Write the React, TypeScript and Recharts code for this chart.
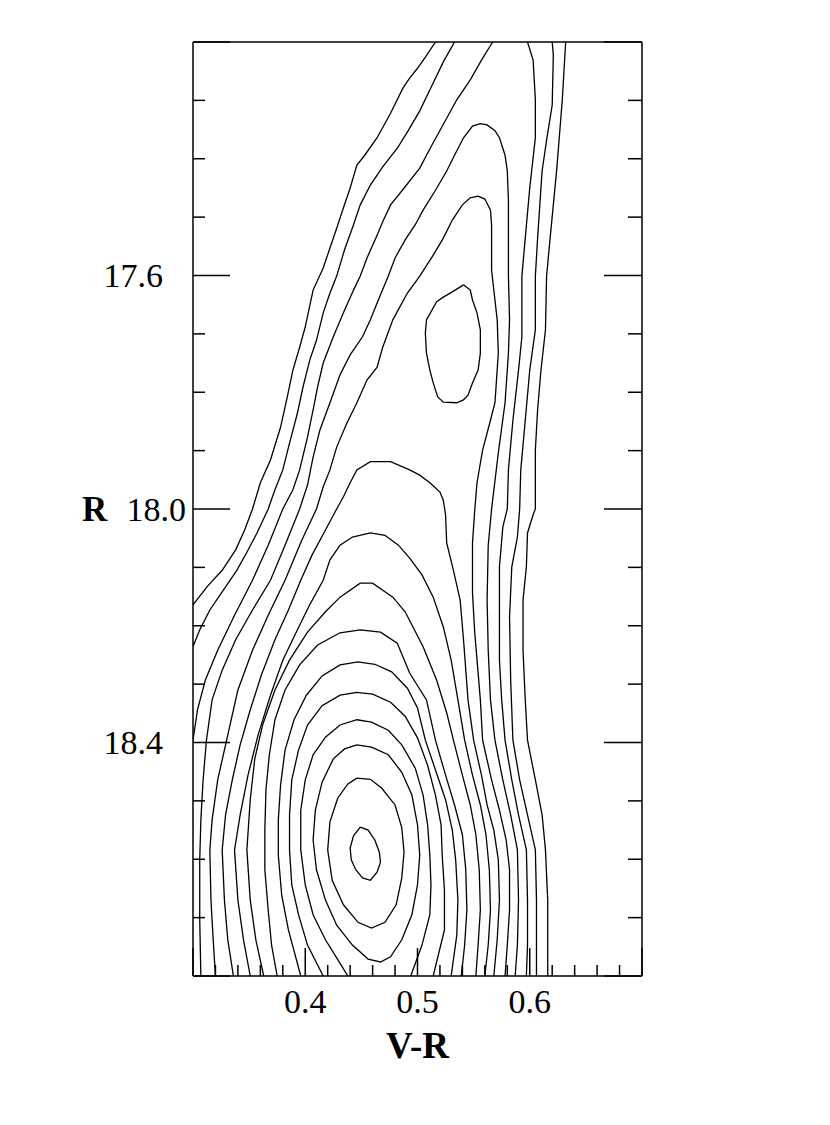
import React from 'react';
import { ScatterChart, Scatter, XAxis, YAxis } from 'recharts';

type Pt = [number, number];

// axis ticks
const vrTicks = [0.3, 0.32, 0.34, 0.36, 0.38, 0.4, 0.42, 0.44, 0.46, 0.48, 0.5, 0.52, 0.54, 0.56, 0.58, 0.6, 0.62, 0.64, 0.66, 0.68, 0.7];
const vrMajor = [0.3, 0.4, 0.5, 0.6, 0.7];
const vrLabels = [0.4, 0.5, 0.6];
const rTicks = [17.2, 17.3, 17.4, 17.5, 17.6, 17.7, 17.8, 17.9, 18.0, 18.1, 18.2, 18.3, 18.4, 18.5, 18.6, 18.7, 18.8];
const rMajor = [17.2, 17.6, 18.0, 18.4, 18.8];
const rLabels = [17.6, 18.0, 18.4];

// contours around the main peak (V-R, R)
const c1: Pt[] = [[0.449,18.545],[0.456,18.550],[0.462,18.567],[0.466,18.588],[0.467,18.605],[0.464,18.622],[0.458,18.636],[0.451,18.632],[0.445,18.618],[0.441,18.601],[0.440,18.581],[0.443,18.560],[0.449,18.545]];
const c2: Pt[] = [[0.446,18.461],[0.458,18.463],[0.468,18.478],[0.480,18.507],[0.486,18.546],[0.488,18.588],[0.486,18.632],[0.481,18.678],[0.471,18.708],[0.459,18.718],[0.447,18.708],[0.434,18.678],[0.424,18.636],[0.420,18.584],[0.422,18.536],[0.429,18.495],[0.438,18.471],[0.446,18.461]];
const c3: Pt[] = [[0.446,18.404],[0.459,18.408],[0.474,18.421],[0.486,18.451],[0.495,18.490],[0.500,18.541],[0.502,18.593],[0.500,18.644],[0.495,18.695],[0.486,18.738],[0.476,18.767],[0.467,18.776],[0.456,18.771],[0.442,18.747],[0.428,18.713],[0.418,18.670],[0.410,18.618],[0.407,18.567],[0.409,18.516],[0.415,18.468],[0.425,18.428],[0.435,18.411],[0.446,18.404]];
const c4: Pt[] = [[0.438,18.800],[0.428,18.769],[0.418,18.738],[0.407,18.695],[0.400,18.644],[0.396,18.584],[0.396,18.516],[0.400,18.464],[0.407,18.421],[0.418,18.391],[0.431,18.370],[0.446,18.361],[0.459,18.365],[0.474,18.379],[0.486,18.404],[0.498,18.444],[0.505,18.490],[0.509,18.541],[0.511,18.593],[0.512,18.644],[0.511,18.695],[0.504,18.747],[0.494,18.800]];
const c5: Pt[] = [[0.416,18.800],[0.402,18.747],[0.394,18.695],[0.388,18.644],[0.386,18.584],[0.386,18.524],[0.388,18.464],[0.394,18.413],[0.402,18.370],[0.415,18.337],[0.431,18.319],[0.446,18.314],[0.460,18.317],[0.476,18.331],[0.489,18.355],[0.500,18.392],[0.509,18.439],[0.516,18.490],[0.521,18.541],[0.522,18.593],[0.524,18.653],[0.524,18.721],[0.514,18.800]];
const c6: Pt[] = [[0.396,18.800],[0.385,18.721],[0.379,18.661],[0.376,18.593],[0.376,18.533],[0.378,18.473],[0.382,18.413],[0.390,18.361],[0.401,18.319],[0.415,18.286],[0.431,18.267],[0.447,18.262],[0.462,18.266],[0.477,18.279],[0.491,18.307],[0.500,18.341],[0.507,18.396],[0.516,18.447],[0.525,18.498],[0.531,18.550],[0.534,18.601],[0.536,18.670],[0.535,18.730],[0.530,18.800]];
const c7: Pt[] = [[0.375,18.800],[0.370,18.747],[0.367,18.687],[0.364,18.618],[0.364,18.550],[0.365,18.481],[0.368,18.421],[0.373,18.361],[0.382,18.310],[0.395,18.267],[0.411,18.233],[0.431,18.212],[0.449,18.207],[0.467,18.211],[0.482,18.230],[0.493,18.281],[0.508,18.327],[0.516,18.396],[0.525,18.456],[0.533,18.507],[0.540,18.558],[0.543,18.618],[0.544,18.687],[0.542,18.747],[0.539,18.800]];
const c8: Pt[] = [[0.363,18.800],[0.356,18.738],[0.351,18.670],[0.348,18.584],[0.351,18.498],[0.355,18.428],[0.362,18.370],[0.373,18.310],[0.386,18.259],[0.402,18.211],[0.418,18.176],[0.431,18.151],[0.449,18.127],[0.460,18.127],[0.478,18.151],[0.489,18.176],[0.505,18.236],[0.517,18.293],[0.526,18.349],[0.532,18.396],[0.540,18.456],[0.547,18.507],[0.552,18.558],[0.555,18.618],[0.556,18.687],[0.554,18.747],[0.552,18.800]];
const c9: Pt[] = [[0.351,18.800],[0.345,18.738],[0.340,18.670],[0.337,18.584],[0.342,18.524],[0.349,18.456],[0.358,18.387],[0.369,18.319],[0.380,18.259],[0.393,18.207],[0.404,18.164],[0.416,18.122],[0.422,18.087],[0.431,18.062],[0.442,18.048],[0.458,18.041],[0.471,18.045],[0.483,18.062],[0.493,18.084],[0.504,18.113],[0.514,18.151],[0.523,18.202],[0.530,18.259],[0.536,18.327],[0.542,18.396],[0.549,18.456],[0.556,18.507],[0.561,18.558],[0.564,18.618],[0.565,18.687],[0.563,18.747],[0.560,18.800]];
const c10: Pt[] = [[0.336,18.800],[0.331,18.738],[0.328,18.670],[0.326,18.584],[0.329,18.524],[0.335,18.464],[0.342,18.404],[0.351,18.344],[0.361,18.284],[0.373,18.224],[0.385,18.173],[0.396,18.122],[0.406,18.079],[0.418,18.036],[0.428,18.000],[0.434,17.979],[0.440,17.955],[0.446,17.933],[0.458,17.919],[0.476,17.919],[0.493,17.933],[0.502,17.942],[0.511,17.955],[0.520,17.971],[0.523,17.985],[0.525,18.010],[0.526,18.058],[0.532,18.105],[0.538,18.156],[0.541,18.224],[0.545,18.327],[0.550,18.396],[0.557,18.456],[0.562,18.507],[0.568,18.550],[0.572,18.601],[0.573,18.670],[0.571,18.738],[0.568,18.800]];

// secondary peak
const s1: Pt[] = [[0.541,17.616],[0.547,17.625],[0.549,17.642],[0.553,17.664],[0.556,17.693],[0.556,17.733],[0.554,17.762],[0.549,17.784],[0.545,17.805],[0.541,17.813],[0.535,17.818],[0.523,17.817],[0.518,17.808],[0.514,17.784],[0.511,17.762],[0.508,17.733],[0.507,17.699],[0.508,17.676],[0.513,17.659],[0.517,17.645],[0.523,17.637],[0.531,17.628],[0.541,17.616]];

// outer contours
const c11: Pt[] = [[0.320,18.800],[0.318,18.738],[0.316,18.670],[0.315,18.584],[0.317,18.533],[0.322,18.464],[0.331,18.387],[0.340,18.310],[0.353,18.242],[0.367,18.182],[0.382,18.122],[0.397,18.053],[0.410,18.000],[0.416,17.962],[0.422,17.933],[0.428,17.894],[0.437,17.853],[0.446,17.818],[0.455,17.779],[0.464,17.757],[0.469,17.723],[0.478,17.676],[0.491,17.630],[0.502,17.601],[0.514,17.565],[0.523,17.536],[0.531,17.505],[0.540,17.479],[0.547,17.467],[0.554,17.464],[0.560,17.469],[0.565,17.488],[0.566,17.513],[0.566,17.539],[0.566,17.591],[0.571,17.676],[0.572,17.733],[0.569,17.818],[0.565,17.848],[0.558,17.899],[0.553,17.955],[0.551,18.002],[0.549,18.058],[0.549,18.144],[0.551,18.212],[0.556,18.327],[0.558,18.396],[0.566,18.464],[0.573,18.516],[0.579,18.567],[0.582,18.618],[0.582,18.687],[0.580,18.747],[0.578,18.800]];
const c12: Pt[] = [[0.307,18.800],[0.306,18.704],[0.306,18.601],[0.307,18.533],[0.309,18.464],[0.312,18.396],[0.317,18.327],[0.326,18.276],[0.338,18.224],[0.353,18.173],[0.369,18.122],[0.382,18.062],[0.395,18.000],[0.402,17.959],[0.407,17.911],[0.413,17.865],[0.422,17.818],[0.431,17.770],[0.440,17.736],[0.451,17.705],[0.458,17.676],[0.464,17.647],[0.474,17.601],[0.480,17.570],[0.489,17.539],[0.498,17.513],[0.505,17.488],[0.516,17.454],[0.526,17.421],[0.533,17.394],[0.541,17.364],[0.549,17.344],[0.556,17.340],[0.562,17.342],[0.569,17.352],[0.573,17.364],[0.578,17.394],[0.580,17.421],[0.581,17.471],[0.581,17.539],[0.581,17.601],[0.582,17.676],[0.581,17.733],[0.578,17.818],[0.572,17.904],[0.566,18.000],[0.563,18.062],[0.562,18.156],[0.563,18.242],[0.565,18.327],[0.569,18.396],[0.576,18.464],[0.583,18.524],[0.589,18.584],[0.590,18.670],[0.589,18.747],[0.587,18.800]];
const c13Left: Pt[] = [[0.300,18.396],[0.304,18.344],[0.311,18.293],[0.322,18.242],[0.337,18.182],[0.353,18.122],[0.367,18.062],[0.380,18.000],[0.389,17.967],[0.395,17.933],[0.402,17.877],[0.407,17.830],[0.411,17.791],[0.416,17.750],[0.425,17.705],[0.434,17.664],[0.443,17.625],[0.449,17.601],[0.455,17.570],[0.464,17.531],[0.469,17.508],[0.476,17.479],[0.489,17.448],[0.502,17.416],[0.513,17.376],[0.525,17.334],[0.535,17.299],[0.547,17.265],[0.557,17.231],[0.567,17.200]];
const c13Right: Pt[] = [[0.598,17.200],[0.603,17.231],[0.605,17.299],[0.605,17.364],[0.600,17.450],[0.596,17.536],[0.593,17.601],[0.593,17.705],[0.590,17.762],[0.585,17.848],[0.581,17.933],[0.580,18.000],[0.576,18.031],[0.573,18.099],[0.573,18.156],[0.573,18.259],[0.575,18.327],[0.578,18.396],[0.584,18.464],[0.590,18.524],[0.597,18.584],[0.598,18.670],[0.598,18.747],[0.597,18.800]];
const c14Left: Pt[] = [[0.300,18.236],[0.306,18.207],[0.315,18.173],[0.326,18.142],[0.339,18.105],[0.348,18.074],[0.357,18.041],[0.367,18.000],[0.373,17.967],[0.380,17.933],[0.386,17.887],[0.393,17.836],[0.398,17.791],[0.404,17.745],[0.410,17.711],[0.416,17.664],[0.422,17.630],[0.428,17.601],[0.435,17.556],[0.443,17.513],[0.449,17.479],[0.458,17.445],[0.469,17.414],[0.482,17.382],[0.492,17.351],[0.502,17.318],[0.513,17.274],[0.523,17.234],[0.533,17.200]];
const c14Right: Pt[] = [[0.620,17.200],[0.621,17.222],[0.620,17.308],[0.615,17.368],[0.611,17.421],[0.607,17.536],[0.605,17.601],[0.605,17.693],[0.600,17.762],[0.596,17.848],[0.592,17.933],[0.591,18.000],[0.589,18.048],[0.584,18.099],[0.582,18.185],[0.583,18.293],[0.585,18.396],[0.591,18.464],[0.598,18.524],[0.605,18.584],[0.606,18.670],[0.606,18.747],[0.606,18.800]];
const c15Left: Pt[] = [[0.300,18.164],[0.313,18.132],[0.326,18.105],[0.338,18.070],[0.346,18.036],[0.353,18.000],[0.360,17.955],[0.369,17.916],[0.378,17.860],[0.384,17.808],[0.389,17.762],[0.395,17.723],[0.400,17.688],[0.407,17.625],[0.416,17.587],[0.422,17.553],[0.428,17.519],[0.434,17.484],[0.440,17.450],[0.446,17.411],[0.453,17.394],[0.464,17.364],[0.476,17.322],[0.487,17.279],[0.493,17.262],[0.500,17.245],[0.507,17.226],[0.516,17.200]];
const c15Right: Pt[] = [[0.632,17.200],[0.629,17.299],[0.624,17.419],[0.618,17.539],[0.615,17.601],[0.614,17.693],[0.610,17.762],[0.607,17.830],[0.605,17.899],[0.605,18.000],[0.603,18.010],[0.598,18.041],[0.597,18.099],[0.594,18.156],[0.594,18.242],[0.596,18.327],[0.598,18.396],[0.605,18.464],[0.611,18.524],[0.614,18.584],[0.616,18.670],[0.616,18.800]];

const contours = [c1, c2, c3, c4, c5, c6, c7, c8, c9, c10, s1, c11, c12, c13Left, c13Right, c14Left, c14Right, c15Left, c15Right];

const FONT = '"Liberation Serif", "Times New Roman", serif';
const has = (list: number[], v: number) => list.some((t) => Math.abs(t - v) < 1e-6);

const BottomTick = (props: any) => {
  const { x, y, payload } = props;
  const v = payload.value;
  const len = has(vrMajor, v) ? 28 : 11;
  return (
    <g>
      <line x1={x} y1={y} x2={x} y2={y - len} stroke="#000" strokeWidth={1.5} />
      {has(vrLabels, v) && (
        <text x={x} y={y + 37} textAnchor="middle" fontSize={34} fontFamily={FONT} fill="#000">
          {v.toFixed(1)}
        </text>
      )}
    </g>
  );
};

const TopTick = (props: any) => {
  const { x, y, payload } = props;
  const len = has(vrMajor, payload.value) ? 28 : 11;
  return <line x1={x} y1={y} x2={x} y2={y + len} stroke="#000" strokeWidth={1.5} />;
};

const LeftTick = (props: any) => {
  const { x, y, payload } = props;
  const v = payload.value;
  const len = has(rMajor, v) ? 37 : 12;
  // the label level with the axis title sits closer to the frame
  const gap = Math.abs(v - 18.0) < 1e-6 ? 7 : 30;
  return (
    <g>
      <line x1={x} y1={y} x2={x + len} y2={y} stroke="#000" strokeWidth={1.5} />
      {has(rLabels, v) && (
        <text x={x - gap} y={y} dy="0.34em" textAnchor="end" fontSize={34} fontFamily={FONT} fill="#000">
          {v.toFixed(1)}
        </text>
      )}
    </g>
  );
};

const RightTick = (props: any) => {
  const { x, y, payload } = props;
  const len = has(rMajor, payload.value) ? 38 : 14;
  return <line x1={x} y1={y} x2={x - len} y2={y} stroke="#000" strokeWidth={1.5} />;
};

const NoDot = () => <g />;

export default function App() {
  return (
    <ScatterChart
      width={822}
      height={1100}
      margin={{ top: 24, right: 178, bottom: 42, left: 74 }}
    >
      <XAxis
        xAxisId="bottom"
        dataKey="x"
        type="number"
        domain={[0.3, 0.7]}
        allowDataOverflow
        ticks={vrTicks}
        interval={0}
        tickSize={0}
        tickMargin={0}
        tickLine={false}
        tick={BottomTick}
        height={90}
        axisLine={{ stroke: '#000', strokeWidth: 1.5 }}
        label={{ value: 'V-R', position: 'insideBottom', offset: 8, fill: '#000', fontSize: 37, fontWeight: 'bold', fontFamily: FONT }}
      />
      <XAxis
        xAxisId="top"
        orientation="top"
        type="number"
        domain={[0.3, 0.7]}
        allowDataOverflow
        ticks={vrTicks}
        interval={0}
        tickSize={0}
        tickMargin={0}
        tickLine={false}
        tick={TopTick}
        height={10}
        axisLine={{ stroke: '#000', strokeWidth: 1.5 }}
      />
      <YAxis
        yAxisId="left"
        dataKey="y"
        type="number"
        domain={[17.2, 18.8]}
        reversed
        allowDataOverflow
        ticks={rTicks}
        interval={0}
        tickSize={0}
        tickMargin={0}
        tickLine={false}
        tick={LeftTick}
        width={111}
        axisLine={{ stroke: '#000', strokeWidth: 1.5 }}
        label={{ value: 'R', position: 'insideLeft', offset: 0, fill: '#000', fontSize: 35, fontWeight: 'bold', fontFamily: FONT }}
      />
      <YAxis
        yAxisId="right"
        orientation="right"
        type="number"
        domain={[17.2, 18.8]}
        reversed
        allowDataOverflow
        ticks={rTicks}
        interval={0}
        tickSize={0}
        tickMargin={0}
        tickLine={false}
        tick={RightTick}
        width={10}
        axisLine={{ stroke: '#000', strokeWidth: 1.5 }}
      />
      {contours.map((c, i) => (
        <Scatter
          key={i}
          xAxisId="bottom"
          yAxisId="left"
          data={c.map(([x, y]) => ({ x, y }))}
          line={{ stroke: '#000', strokeWidth: 1.3 }}
          lineType="joint"
          shape={NoDot}
          fill="#000"
          isAnimationActive={false}
        />
      ))}
    </ScatterChart>
  );
}
